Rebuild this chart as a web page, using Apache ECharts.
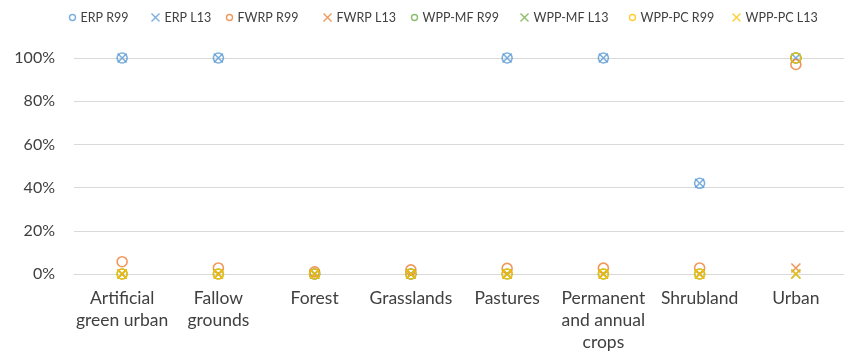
<!DOCTYPE html>
<html>
<head>
<meta charset="utf-8">
<script src="https://cdn.jsdelivr.net/npm/echarts@6/dist/echarts.min.js"></script>
<style>html,body{margin:0;padding:0;background:#fff;}#c{width:844px;height:354px;}</style>
</head>
<body>
<div id="c"></div>
<script>
const categories = ['Artificial green urban','Fallow grounds','Forest','Grasslands','Pastures','Permanent and annual crops','Shrubland','Urban'];
const tickLabels = ['Artificial\ngreen urban','Fallow\ngrounds','Forest','Grasslands','Pastures','Permanent\nand annual\ncrops','Shrubland','Urban'];
const seriesNames = ['ERP R99','ERP L13','FWRP R99','FWRP L13','WPP-MF R99','WPP-MF L13','WPP-PC R99','WPP-PC L13'];
const erpR99   = [100, 100, 0, 0, 100, 100, 42, 100];
const erpL13   = [100, 100, 0, 0, 100, 100, 42, 100];
const fwrpR99  = [5.7, 2.8, 1, 1.9, 2.6, 2.7, 2.8, 97];
const fwrpL13  = [0, 0, 0, 0, 0, 0, 0, 2.8];
const wppmfR99 = [0, 0, 0, 0, 0, 0, 0, 100];
const wppmfL13 = [0, 0, 0, 0, 0, 0, 0, 0];
const wpppcR99 = [0, 0, 0, 0, 0, 0, 0, 100];
const wpppcL13 = [0, 0, 0, 0, 0, 0, 0, 0];
const yTicks = ['0%','20%','40%','60%','80%','100%'];

const values = [erpR99, erpL13, fwrpR99, fwrpL13, wppmfR99, wppmfL13, wpppcR99, wpppcL13];
const colors = ['#5B9BD5','#5B9BD5','#ED7D31','#ED7D31','#70AD47','#70AD47','#FFC000','#FFC000'];
const legendLeft = [67, 149, 224, 321, 409, 518, 627, 730];
const X = 'path://M0,0L10,10M10,0L0,10';

const series = seriesNames.map((name, i) => {
  const isCircle = i % 2 === 0;
  return {
    name: name,
    type: 'scatter',
    data: values[i],
    symbol: isCircle ? 'circle' : X,
    symbolSize: isCircle ? 10 : 9,
    itemStyle: { color: 'none', borderColor: colors[i], borderWidth: 1.6 },
    emphasis: { disabled: true }
  };
});

const legends = seriesNames.map((n, i) => ({
  top: 11,
  left: legendLeft[i],
  padding: 0,
  itemWidth: i % 2 === 0 ? 6 : 8,
  itemHeight: i % 2 === 0 ? 6 : 8,
  itemGap: 0,
  textStyle: { fontFamily: 'Lato', fontSize: 12.5, color: '#404040' },
  data: [{
    name: n,
    icon: i % 2 === 0 ? 'circle' : X,
    itemStyle: { color: 'none', borderColor: colors[i], borderWidth: 1.4 }
  }]
}));

const chart = echarts.init(document.getElementById('c'), null, { renderer: 'canvas' });
chart.setOption({
  animation: false,
  color: colors,
  legend: legends,
  grid: { left: 74, right: -6, top: 58, bottom: 80, containLabel: false },
  xAxis: {
    type: 'category',
    data: categories,
    axisLine: { show: true, lineStyle: { color: '#d9d9d9', width: 1 } },
    axisTick: { show: false },
    axisLabel: {
      interval: 0,
      margin: 13,
      fontFamily: 'Lato',
      fontSize: 17.5,
      lineHeight: 22,
      color: '#404040',
      formatter: (v, idx) => tickLabels[idx]
    }
  },
  yAxis: {
    type: 'value',
    min: 0,
    max: 100,
    interval: 20,
    axisLine: { show: false },
    axisTick: { show: false },
    splitLine: { lineStyle: { color: '#d9d9d9', width: 1 } },
    axisLabel: {
      margin: 19,
      fontFamily: 'Lato',
      fontSize: 16,
      color: '#404040',
      formatter: (v) => yTicks[Math.round(v / 20)]
    }
  },
  series: series
});
</script>
</body>
</html>
